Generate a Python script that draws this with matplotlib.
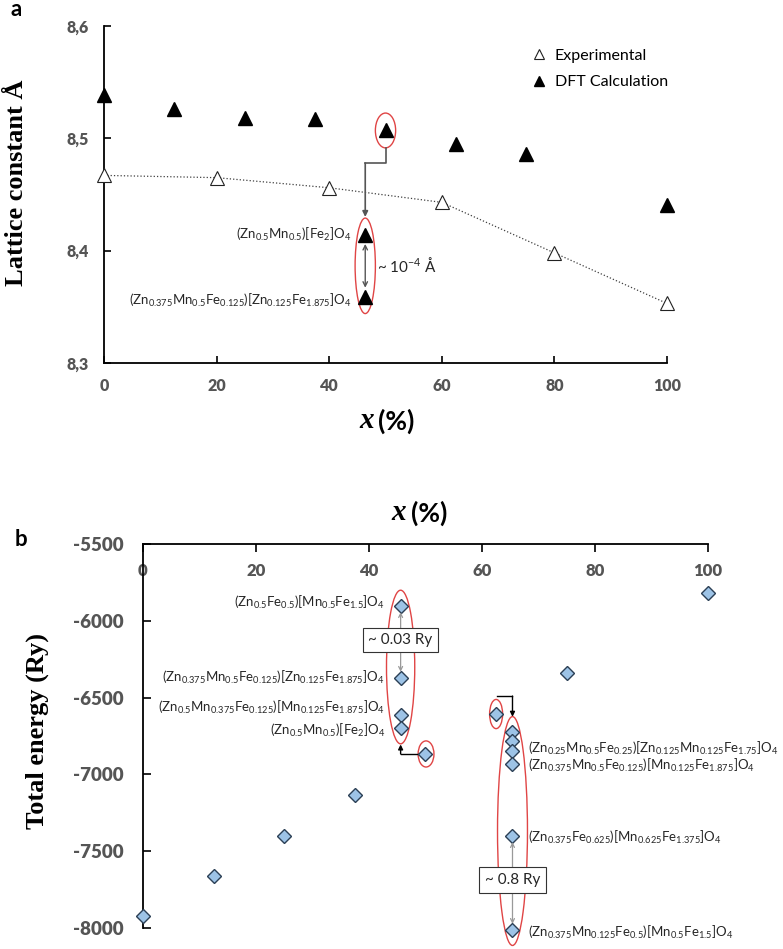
import matplotlib
matplotlib.use("Agg")
import matplotlib.pyplot as plt
from matplotlib.patches import Ellipse

plt.rcParams['font.family'] = ['Lato', 'DejaVu Sans']
plt.rcParams['mathtext.fontset'] = 'custom'
plt.rcParams['mathtext.rm'] = 'Lato'
plt.rcParams['mathtext.it'] = 'Lato:italic'
plt.rcParams['mathtext.bf'] = 'Lato:bold'
plt.rcParams['axes.unicode_minus'] = False

# ---- panel a: lattice constant ----
x_exp = [0, 20, 40, 60, 80, 100]
a_exp = [8.467, 8.465, 8.456, 8.443, 8.398, 8.353]
x_dft = [0, 12.5, 25, 37.5, 50, 62.5, 75, 100]
a_dft = [8.539, 8.526, 8.518, 8.517, 8.507, 8.495, 8.486, 8.441]
x_pair = 46.4
a_pair = [8.414, 8.359]
pair_labels = [r"(Zn$_{0.5}$Mn$_{0.5}$)[Fe$_{2}$]O$_{4}$",
               r"(Zn$_{0.375}$Mn$_{0.5}$Fe$_{0.125}$)[Zn$_{0.125}$Fe$_{1.875}$]O$_{4}$"]
a_yticks = [8.3, 8.4, 8.5, 8.6]
a_yticklabels = ["8,3", "8,4", "8,5", "8,6"]
a_xticks = [0, 20, 40, 60, 80, 100]

# ---- panel b: total energy ----
x_main = [0, 12.5, 25, 37.5, 50, 62.5, 75, 100]
e_main = [-7922, -7661, -7401, -7134, -6867, -6607, -6340, -5819]
x_c1 = 45.6
e_c1 = [-5904, -6372, -6613, -6698]
c1_labels = [r"(Zn$_{0.5}$Fe$_{0.5}$)[Mn$_{0.5}$Fe$_{1.5}$]O$_{4}$",
             r"(Zn$_{0.375}$Mn$_{0.5}$Fe$_{0.125}$)[Zn$_{0.125}$Fe$_{1.875}$]O$_{4}$",
             r"(Zn$_{0.5}$Mn$_{0.375}$Fe$_{0.125}$)[Mn$_{0.125}$Fe$_{1.875}$]O$_{4}$",
             r"(Zn$_{0.5}$Mn$_{0.5}$)[Fe$_{2}$]O$_{4}$"]
x_c2 = 65.4
e_c2 = [-6724, -6782, -6848, -6932, -7401, -8013]
c2_labels = [r"(Zn$_{0.25}$Mn$_{0.5}$Fe$_{0.25}$)[Zn$_{0.125}$Mn$_{0.125}$Fe$_{1.75}$]O$_{4}$",
             r"(Zn$_{0.375}$Mn$_{0.5}$Fe$_{0.125}$)[Mn$_{0.125}$Fe$_{1.875}$]O$_{4}$",
             r"(Zn$_{0.375}$Fe$_{0.625}$)[Mn$_{0.625}$Fe$_{1.375}$]O$_{4}$",
             r"(Zn$_{0.375}$Mn$_{0.125}$Fe$_{0.5}$)[Mn$_{0.5}$Fe$_{1.5}$]O$_{4}$"]
b_yticks = [-8000, -7500, -7000, -6500, -6000, -5500]
b_xticks = [0, 20, 40, 60, 80, 100]

tick_gray = '#555555'
red = '#e04545'
txt = '#262626'

fig = plt.figure(figsize=(7.83, 9.49), dpi=100)

# ================= panel a =================
ax = fig.add_axes([0.1328, 0.6175, 0.7191, 0.3551])
ax.plot(x_exp, a_exp, ':', color='#404040', lw=0.9, zorder=1)
ax.plot(x_exp, a_exp, '^', ms=10, mfc='white', mec='#222222', mew=0.8,
        linestyle='none', label='Experimental', zorder=3, clip_on=False)
ax.plot(x_dft, a_dft, '^', ms=10, color='black', linestyle='none',
        label='DFT Calculation', zorder=3, clip_on=False)
ax.plot([x_pair] * 2, a_pair, '^', ms=10, color='black', linestyle='none', zorder=3)

ax.set_xlim(0, 100)
ax.set_ylim(8.3, 8.6)
ax.set_xticks(a_xticks, [str(v) for v in a_xticks], fontweight='heavy', fontsize=11.5)
ax.set_yticks(a_yticks, a_yticklabels, fontweight='heavy', fontsize=11.5)
for s in ['top', 'right']:
    ax.spines[s].set_visible(False)
for s in ['left', 'bottom']:
    ax.spines[s].set_linewidth(1.3)
ax.tick_params(axis='both', direction='in', length=5, width=1.2, labelcolor=tick_gray)
ax.tick_params(axis='y', pad=11)
ax.tick_params(axis='x', pad=11)

leg = ax.legend(loc='upper left', bbox_to_anchor=(0.73, 0.975), frameon=False,
                fontsize=11.5, handletextpad=0.4, labelspacing=0.75,
                markerscale=0.75, handlelength=1.2)

# red ellipses and arrows
dft50 = a_dft[x_dft.index(50)]
ax.add_patch(Ellipse((50, dft50), 3.6, 0.031, fill=False, ec=red, lw=1.0, clip_on=False))
pair_mid = sum(a_pair) / 2
ax.add_patch(Ellipse((x_pair, pair_mid), 3.6, 0.085, fill=False, ec=red, lw=1.0, clip_on=False))
ax.plot([50, 50, x_pair], [dft50 - 0.0155, 8.478, 8.478], color='#555555', lw=1.2)
ax.annotate('', xy=(x_pair, 8.430), xytext=(x_pair, 8.478),
            arrowprops=dict(arrowstyle='-|>', color='#555555', lw=1.2, mutation_scale=8,
                            shrinkA=0, shrinkB=0))
ax.annotate('', xy=(x_pair, 8.406), xytext=(x_pair, 8.367),
            arrowprops=dict(arrowstyle='<->', color='#555555', lw=1.0, mutation_scale=8,
                            shrinkA=0, shrinkB=0))
ax.text(48.5, pair_mid, r"~ 10$^{-4}$ Å", fontsize=11, color=txt, va='center', ha='left')
ax.text(44.0, a_pair[0], pair_labels[0], fontsize=9.5, color=txt, ha='right', va='center')
ax.text(44.0, a_pair[1] - 0.003, pair_labels[1], fontsize=9.5, color=txt, ha='right', va='center')

fig.text(17 / 783, 1 - 183 / 949, "Lattice constant Å", rotation=90, ha='center', va='center',
         fontsize=19, fontweight='bold', family='Liberation Serif')
fig.text(374 / 783, 1 - 421 / 949, "x", ha='right', va='center', fontsize=21,
         fontweight='bold', style='italic', family='Liberation Serif')
fig.text(378 / 783, 1 - 421 / 949, "(%)", ha='left', va='center', fontsize=19, fontweight='bold')
fig.text(16 / 783, 1 - 10 / 949, "a", ha='center', va='center', fontsize=16, fontweight='bold')

# ================= panel b =================
bx = fig.add_axes([0.1826, 0.0221, 0.7216, 0.4047])
dkw = dict(marker='D', ms=6.8, mfc='#9dc3e6', mec='#2b3f55', mew=1.0, linestyle='none',
           zorder=3, clip_on=False)
bx.plot(x_main, e_main, **dkw)
bx.plot([x_c1] * len(e_c1), e_c1, **dkw)
bx.plot([x_c2] * len(e_c2), e_c2, **dkw)

bx.set_xlim(0, 100)
bx.set_ylim(-8000, -5500)
bx.set_xticks(b_xticks, [str(v) for v in b_xticks], fontweight='heavy', fontsize=12)
bx.set_yticks(b_yticks, [str(v) for v in b_yticks], fontweight='heavy', fontsize=13.5)
for s in ['bottom', 'right']:
    bx.spines[s].set_visible(False)
for s in ['left', 'top']:
    bx.spines[s].set_linewidth(1.3)
bx.xaxis.tick_top()
bx.tick_params(axis='x', direction='in', length=6, width=1.2, labelcolor=tick_gray, pad=-25)
bx.tick_params(axis='y', direction='in', length=6, width=1.2, labelcolor=tick_gray, pad=14)

# ellipses
c1_mid = (max(e_c1) + min(e_c1)) / 2
bx.add_patch(Ellipse((x_c1, c1_mid), 5.0, 1000, fill=False, ec=red, lw=1.0, clip_on=False))
bx.add_patch(Ellipse((50.1, e_main[4]), 2.8, 170, fill=False, ec=red, lw=1.0, clip_on=False))
bx.add_patch(Ellipse((62.5, e_main[5]), 2.3, 190, fill=False, ec=red, lw=1.0, clip_on=False))
c2_mid = (max(e_c2) + min(e_c2)) / 2
bx.add_patch(Ellipse((x_c2, c2_mid), 5.3, 1490, fill=False, ec=red, lw=1.0, clip_on=False))

# connectors
bx.plot([48.6, x_c1], [e_main[4], e_main[4]], color='black', lw=1.0)
bx.annotate('', xy=(x_c1, -6805), xytext=(x_c1, e_main[4]),
            arrowprops=dict(arrowstyle='-|>', color='black', lw=1.0, mutation_scale=7,
                            shrinkA=0, shrinkB=0))
bx.plot([62.7, x_c2], [-6490, -6490], color='black', lw=1.0)
bx.annotate('', xy=(x_c2, -6625), xytext=(x_c2, -6490),
            arrowprops=dict(arrowstyle='-|>', color='black', lw=1.0, mutation_scale=7,
                            shrinkA=0, shrinkB=0))

# gap arrows with boxes
gray_arrow = dict(arrowstyle='<->', color='#999999', lw=0.9, mutation_scale=7,
                  shrinkA=0, shrinkB=0)
bx.annotate('', xy=(x_c1, e_c1[0] - 40), xytext=(x_c1, e_c1[1] + 40), arrowprops=gray_arrow)
bx.text(45.5, -6125, "~ 0.03 Ry", fontsize=11, color=txt, ha='center', va='center', zorder=4,
        bbox=dict(boxstyle='square,pad=0.35', fc='white', ec='#333333', lw=0.8))
bx.annotate('', xy=(x_c2, e_c2[4] - 40), xytext=(x_c2, e_c2[5] + 40), arrowprops=gray_arrow)
bx.text(65.4, -7688, "~ 0.8 Ry", fontsize=11, color=txt, ha='center', va='center', zorder=4,
        bbox=dict(boxstyle='square,pad=0.4', fc='white', ec='#333333', lw=0.8))

# formula labels
for y, s in zip([-5878, -6366, -6561, -6711], c1_labels):
    bx.text(42.8, y, s, fontsize=9.5, color=txt, ha='right', va='center')
for y, s in zip([-6828, -6939, -7408, -8026], c2_labels):
    bx.text(68.1, y, s, fontsize=9.5, color=txt, ha='left', va='center', clip_on=False)

fig.text(37 / 783, 1 - 731 / 949, "Total energy (Ry)", rotation=90, ha='center', va='center',
         fontsize=19, fontweight='bold', family='Liberation Serif')
fig.text(406 / 783, 1 - 513 / 949, "x", ha='right', va='center', fontsize=21,
         fontweight='bold', style='italic', family='Liberation Serif')
fig.text(411 / 783, 1 - 513 / 949, "(%)", ha='left', va='center', fontsize=19, fontweight='bold')
fig.text(21 / 783, 1 - 539 / 949, "b", ha='center', va='center', fontsize=16, fontweight='bold')

fig.savefig("out.png", dpi=100)
